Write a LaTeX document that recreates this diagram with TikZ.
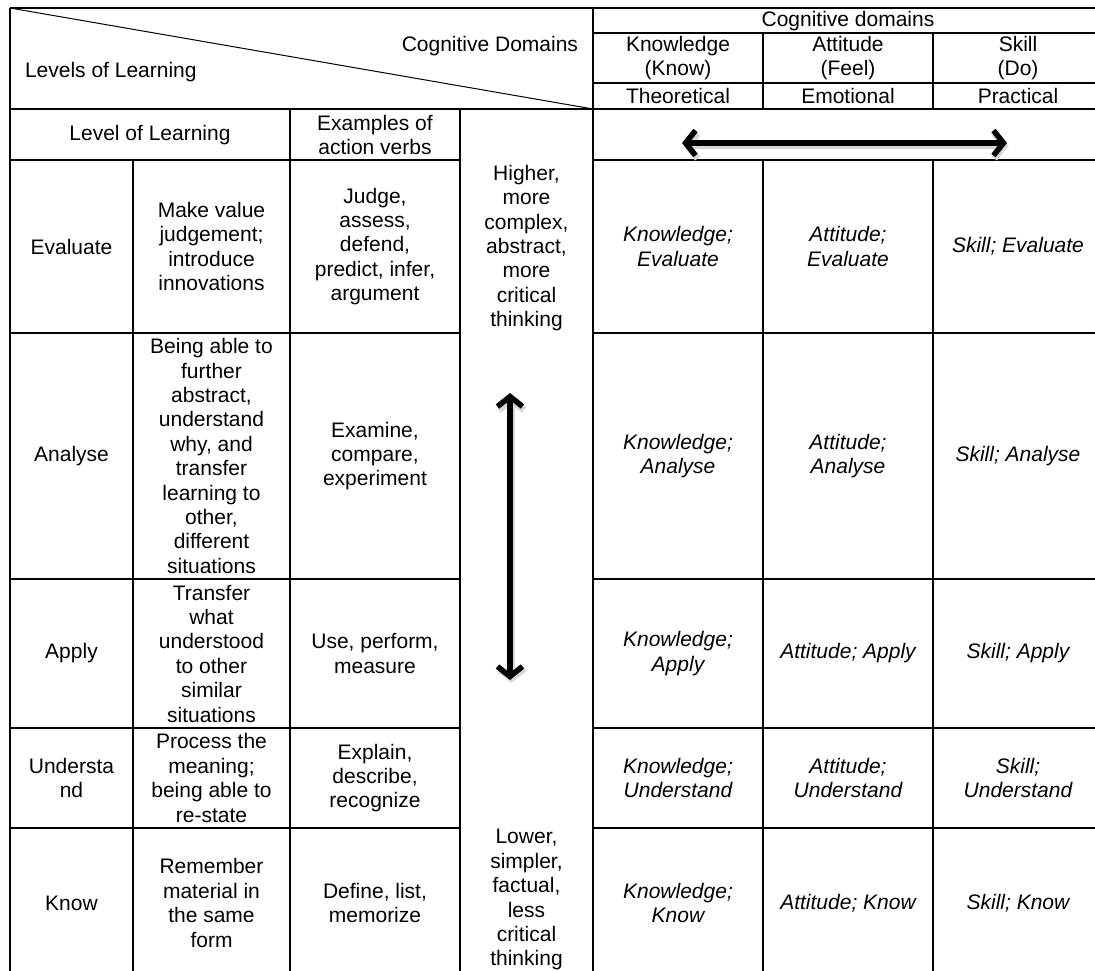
\documentclass[tikz,border=0pt]{standalone}
\usepackage{fontspec}
\setmainfont{Liberation Sans}
\usetikzlibrary{arrows.meta}

\begin{document}
\begin{tikzpicture}[x=1pt,y=-1pt,
  txt/.style={inner sep=0pt,outer sep=0pt,align=center,font=\fontsize{21}{24.4}\selectfont},
  celltxt/.style={txt,font=\fontsize{21}{24.4}\selectfont\itshape},
  rule/.style={draw=black,line width=1.7pt},
  dbl/.style={line width=5.5pt,>={Straight Barb[length=10pt,width=25pt]},<->},
  dblshadow/.style={dbl,draw=black!16,line width=6.5pt}]
\path[use as bounding box] (0,0) rectangle (1095,971);
\path[fill=white,draw=none] (0,0) rectangle (1095,971);
\clip (0,0) rectangle (1095,971);
% grid of the table
\draw[rule] (10,8) -- (1103,8);
\draw[rule] (10,8) -- (10,978);
\draw[rule] (593,33) -- (1103,33);
\draw[rule] (593,83) -- (1103,83);
\draw[rule] (10,109) -- (1103,109);
\draw[rule] (10,160) -- (460,160);
\draw[rule] (593,160) -- (1103,160);
\draw[rule] (10,333) -- (460,333);
\draw[rule] (593,333) -- (1103,333);
\draw[rule] (10,579) -- (460,579);
\draw[rule] (593,579) -- (1103,579);
\draw[rule] (10,728) -- (460,728);
\draw[rule] (593,728) -- (1103,728);
\draw[rule] (10,828) -- (460,828);
\draw[rule] (593,828) -- (1103,828);
\draw[rule] (10,978) -- (1103,978);
\draw[rule] (593,8) -- (593,978);
\draw[rule] (763,33) -- (763,109);
\draw[rule] (933,33) -- (933,109);
\draw[rule] (763,160) -- (763,978);
\draw[rule] (933,160) -- (933,978);
\draw[rule] (1103,8) -- (1103,978);
\draw[rule] (133,160) -- (133,978);
\draw[rule] (290,109) -- (290,978);
\draw[rule] (460,109) -- (460,978);
\draw[draw=black,line width=1pt] (10,8) -- (593,109);
% header
\node[txt,anchor=east] (cogLbl) at (578,46) {Cognitive Domains};
\node[txt,anchor=west] (levelsLbl) at (25,72) {Levels of Learning};
\node[txt] (cogTop) at (848,21) {Cognitive domains};
\node[txt] (knowHdr) at (678,58) {Knowledge\\(Know)};
\node[txt] (attHdr) at (848,58) {Attitude\\(Feel)};
\node[txt] (skillHdr) at (1018,58) {Skill\\(Do)};
\node[txt] (theoHdr) at (678,96) {Theoretical};
\node[txt] (emoHdr) at (848,96) {Emotional};
\node[txt] (pracHdr) at (1018,96) {Practical};
\node[txt] (levelHdr) at (150,135) {Level of Learning};
\node[txt] (verbsHdr) at (375,135) {Examples of\\action verbs};
% evaluate
\node[txt] (evalLvl) at (71.5,246.5) {Evaluate};
\node[txt] (evalDesc) at (211.5,246.5) {Make value\\judgement;\\introduce\\innovations};
\node[txt] (evalVerbs) at (375,246.5) {Judge,\\assess,\\defend,\\predict, infer,\\argument};
\node[celltxt] (evalK) at (678,246.5) {Knowledge;\\Evaluate};
\node[celltxt] (evalA) at (848,246.5) {Attitude;\\Evaluate};
\node[celltxt] (evalS) at (1018,246.5) {Skill; Evaluate};
% analyse
\node[txt] (anaLvl) at (71.5,456) {Analyse};
\node[txt] (anaDesc) at (211.5,456) {Being able to\\further\\abstract,\\understand\\why, and\\transfer\\learning to\\other,\\different\\situations};
\node[txt] (anaVerbs) at (375,456) {Examine,\\compare,\\experiment};
\node[celltxt] (anaK) at (678,456) {Knowledge;\\Analyse};
\node[celltxt] (anaA) at (848,456) {Attitude;\\Analyse};
\node[celltxt] (anaS) at (1018,456) {Skill; Analyse};
% apply
\node[txt] (appLvl) at (71.5,653.5) {Apply};
\node[txt] (appDesc) at (211.5,653.5) {Transfer\\what\\understood\\to other\\similar\\situations};
\node[txt] (appVerbs) at (375,653.5) {Use, perform,\\measure};
\node[celltxt] (appK) at (678,653.5) {Knowledge;\\Apply};
\node[celltxt] (appA) at (848,653.5) {Attitude; Apply};
\node[celltxt] (appS) at (1018,653.5) {Skill; Apply};
% understand
\node[txt] (undLvl) at (71.5,778) {Understa\\nd};
\node[txt] (undDesc) at (211.5,778) {Process the\\meaning;\\being able to\\re-state};
\node[txt] (undVerbs) at (375,778) {Explain,\\describe,\\recognize};
\node[celltxt] (undK) at (678,778) {Knowledge;\\Understand};
\node[celltxt] (undA) at (848,778) {Attitude;\\Understand};
\node[celltxt] (undS) at (1018,778) {Skill;\\Understand};
% know
\node[txt] (knowLvl) at (71.5,903) {Know};
\node[txt] (knowDesc) at (211.5,903) {Remember\\material in\\the same\\form};
\node[txt] (knowVerbs) at (375,903) {Define, list,\\memorize};
\node[celltxt] (knowK) at (678,903) {Knowledge;\\Know};
\node[celltxt] (knowA) at (848,903) {Attitude; Know};
\node[celltxt] (knowS) at (1018,903) {Skill; Know};
% thinking scale
\node[txt,anchor=north] (higherTxt) at (526.5,165) {Higher,\\more\\complex,\\abstract,\\more\\critical\\thinking};
\node[txt,anchor=north] (lowerTxt) at (526.5,829.5) {Lower,\\simpler,\\factual,\\less\\critical\\thinking};
% arrows
\coordinate (hArrowL) at (682,143);
\coordinate (hArrowR) at (1007,143);
\coordinate (vArrowT) at (510,393);
\coordinate (vArrowB) at (510,680);
\draw[dblshadow] ([xshift=1.5pt,yshift=-3pt]hArrowL) -- ([xshift=1.5pt,yshift=-3pt]hArrowR);
\draw[dblshadow] ([xshift=1.5pt,yshift=-3pt]vArrowT) -- ([xshift=1.5pt,yshift=-3pt]vArrowB);
\draw[dbl] (hArrowL) -- (hArrowR);
\draw[dbl] (vArrowT) -- (vArrowB);
\end{tikzpicture}
\end{document}
